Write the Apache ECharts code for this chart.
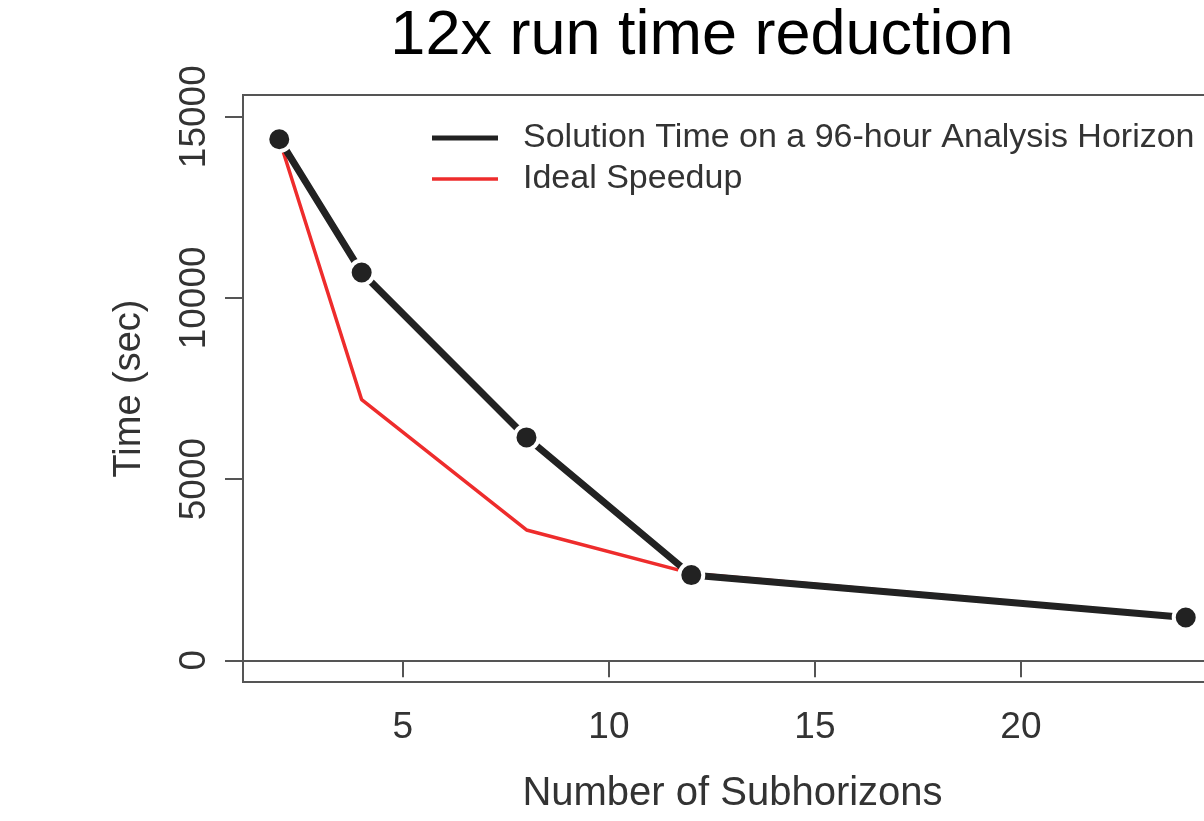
<!DOCTYPE html>
<html>
<head>
<meta charset="utf-8">
<script src="https://cdn.jsdelivr.net/npm/echarts@6/dist/echarts.min.js"></script>
<style>
html,body{margin:0;padding:0;background:#fff;overflow:hidden;width:1204px;height:821px;}
#chart{width:1224px;height:821px;}
</style>
</head>
<body>
<div id="chart"></div>
<script>
// Data
const subhorizons = [2, 4, 8, 12, 24];
const solutionTime = [14380, 10700, 6150, 2350, 1180];
const idealSpeedup = [14380, 7190, 3595, 2397, 1198];
const xTicks = [5, 10, 15, 20];
const yTicks = [0, 5000, 10000, 15000];
const titleText = '12x run time reduction';
const seriesNames = ['Solution Time on a 96-hour Analysis Horizon', 'Ideal Speedup'];

const pair = (xs, ys) => xs.map((x, i) => [x, ys[i]]);
const axisColor = '#555';
const textColor = '#333';
const font = 'Liberation Sans, Arial, sans-serif';

const chart = echarts.init(document.getElementById('chart'), null, {renderer: 'canvas'});
chart.setOption({
  animation: false,
  backgroundColor: '#fff',
  title: {
    text: titleText,
    left: 697,
    top: 0,
    textAlign: 'center',
    textStyle: {fontSize: 63, fontWeight: 'normal', color: '#000', fontFamily: font}
  },
  grid: {
    left: 243, top: 95, bottom: 139, width: 979,
    show: true, borderColor: axisColor, borderWidth: 2, backgroundColor: 'transparent'
  },
  legend: [
    {
      data: [{name: seriesNames[0], icon: 'rect', itemStyle: {color: '#222', borderWidth: 0}}],
      left: 427, top: 116, itemWidth: 66, itemHeight: 5,
      textStyle: {fontSize: 34, color: textColor, fontFamily: font, padding: [0, 0, 0, 20]},
      selectedMode: false
    },
    {
      data: [{name: seriesNames[1], icon: 'rect', itemStyle: {color: '#ee2c2c', borderWidth: 0}}],
      left: 427, top: 157, itemWidth: 66, itemHeight: 3.5,
      textStyle: {fontSize: 34, color: textColor, fontFamily: font, padding: [0, 0, 0, 20]},
      selectedMode: false
    }
  ],
  xAxis: {
    type: 'value',
    min: 1.12, max: 24.88,
    name: 'Number of Subhorizons',
    nameLocation: 'middle',
    nameGap: 92,
    nameTextStyle: {fontSize: 40, color: textColor, fontFamily: font},
    axisLine: {show: true, lineStyle: {color: axisColor, width: 2}},
    axisTick: {show: true, customValues: xTicks, length: 17, lineStyle: {color: axisColor, width: 2}},
    axisLabel: {customValues: xTicks, fontSize: 37, color: textColor, fontFamily: font, margin: 27},
    splitLine: {show: false}
  },
  yAxis: {
    type: 'value',
    min: -600, max: 15600,
    name: 'Time (sec)',
    nameLocation: 'middle',
    nameGap: 94,
    nameTextStyle: {fontSize: 38, color: textColor, fontFamily: font},
    axisLine: {show: true, lineStyle: {color: axisColor, width: 2}},
    axisTick: {show: true, customValues: yTicks, length: 18, lineStyle: {color: axisColor, width: 2}},
    axisLabel: {customValues: yTicks, rotate: 90, fontSize: 37, color: textColor, fontFamily: font, margin: 30,
      formatter: v => String(v)},
    splitLine: {show: false}
  },
  series: [
    {
      name: seriesNames[1],
      type: 'line',
      data: pair(subhorizons, idealSpeedup),
      showSymbol: false,
      symbol: 'none',
      lineStyle: {color: '#ee2c2c', width: 3.5},
      itemStyle: {color: '#ee2c2c'},
      z: 2
    },
    {
      name: seriesNames[0],
      type: 'line',
      data: pair(subhorizons, solutionTime),
      symbol: 'circle',
      symbolSize: 24,
      showAllSymbol: true,
      lineStyle: {color: '#222', width: 7},
      itemStyle: {color: '#222', borderColor: '#fff', borderWidth: 4},
      z: 3
    }
  ]
});
</script>
</body>
</html>
